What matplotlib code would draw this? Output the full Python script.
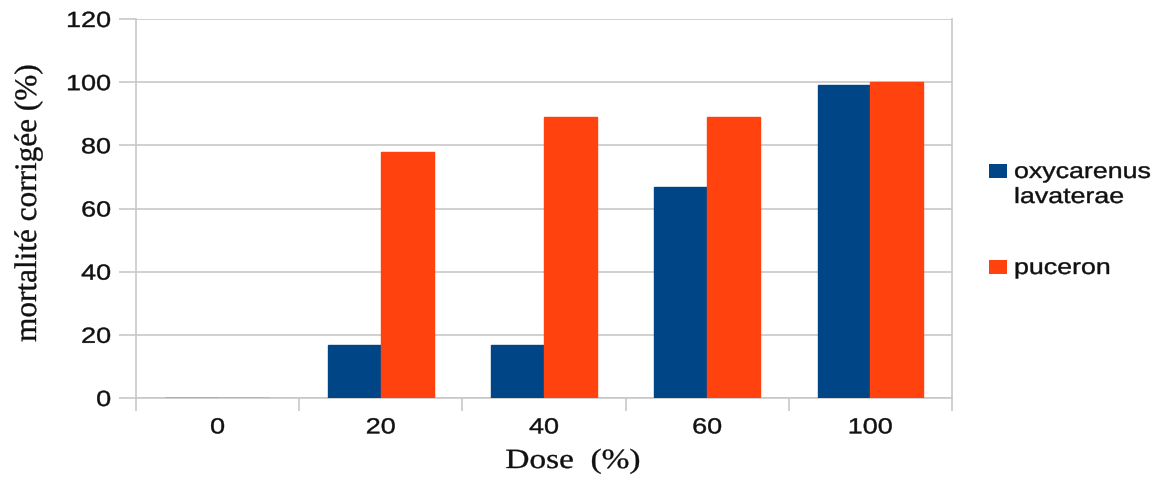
import numpy as np
import matplotlib.pyplot as plt
from matplotlib.patheffects import AbstractPathEffect
from matplotlib.transforms import Affine2D
from matplotlib.patches import Rectangle

doses = ['0', '20', '40', '60', '100']
oxycarenus = [0, 16.67, 16.67, 66.67, 99.2]
puceron = [0, 77.78, 88.89, 88.89, 100]
series = ['oxycarenus\nlavaterae', 'puceron']

blue = '#004586'
orange = '#ff420e'
grid_col = '#c8c8c8'
W, H = 1165, 479


class Stretch(AbstractPathEffect):
    # the reference text is drawn wider than the font: stretch glyphs along the text direction
    def __init__(self, sx, ha='center', lw=0.0):
        super().__init__()
        self.sx = sx
        self.ha = ha
        self.lw = lw

    def draw_path(self, renderer, gc, tpath, affine, rgbFace=None):
        ext = tpath.get_extents()
        ref = {'left': 0.0, 'center': (ext.x0 + ext.x1) / 2, 'right': ext.x1}[self.ha]
        aff = Affine2D().translate(-ref, 0).scale(self.sx, 1).translate(ref, 0) + affine
        gc0 = renderer.new_gc()
        gc0.copy_properties(gc)
        if self.lw > 0:
            gc0.set_linewidth(self.lw)
            gc0.set_foreground(rgbFace)
        renderer.draw_path(gc0, tpath, aff, rgbFace)
        gc0.restore()


fig = plt.figure(figsize=(W / 100, H / 100), dpi=100)
ax = fig.add_axes([136 / W, 1 - 398 / H, 816 / W, 379 / H])

x = np.arange(len(doses))
w = 0.323
ax.bar(x - w / 2, oxycarenus, w, color=blue, edgecolor=blue, linewidth=1.0, zorder=3)
ax.bar(x + w / 2, puceron, w, color=orange, edgecolor=orange, linewidth=1.0, zorder=3)

ax.set_xlim(-0.5, len(doses) - 0.5)
ax.set_ylim(0, 120)
ax.set_yticks(np.arange(0, 121, 20))
ax.yaxis.grid(True, color=grid_col, linewidth=1.2, zorder=0)

# category labels centred, tick marks on the category boundaries
ax.set_xticks(x)
ax.set_xticklabels(doses)
ax.set_xticks(np.arange(-0.5, len(doses)), minor=True)
ax.tick_params(axis='x', which='major', length=0, pad=14)
ax.tick_params(axis='x', which='minor', length=9, width=1.2, color=grid_col)
ax.tick_params(axis='y', length=12, width=1.2, color=grid_col, pad=6)

for lab in ax.get_xticklabels():
    lab.set_fontfamily('Liberation Sans')
    lab.set_fontsize(15.8)
    lab.set_color('#111111')
    lab.set_path_effects([Stretch(1.23, 'center', 0.3)])
for lab in ax.get_yticklabels():
    lab.set_fontfamily('Liberation Sans')
    lab.set_fontsize(15.8)
    lab.set_color('#111111')
    lab.set_path_effects([Stretch(1.23, 'right', 0.3)])

for side in ['left', 'right', 'bottom']:
    ax.spines[side].set_color(grid_col)
    ax.spines[side].set_linewidth(1.2)
ax.spines['top'].set_visible(False)
ax.spines['left'].set_bounds(0, 120)
ax.spines['right'].set_bounds(0, 120)

xl = ax.set_xlabel('Dose  (%)', fontfamily='Liberation Serif', fontsize=20, color='#111111')
ax.xaxis.set_label_coords(0.5355, (398 - 468) / 379)
xl.set_va('baseline')
xl.set_path_effects([Stretch(1.2, 'center', 0.25)])

yl = ax.set_ylabel('mortalité corrigée (%)', fontfamily='Liberation Serif', fontsize=22.5,
                   color='#111111')
ax.yaxis.set_label_coords((43 - 136) / 816, 0.515)
yl.set_path_effects([Stretch(1.0, 'center', 0.25)])

# legend: square aligned with the first text line, like the reference
colors = [blue, orange]
baselines = [178, 274]
for name, col, base in zip(series, colors, baselines):
    fig.add_artist(Rectangle((989 / W, 1 - base / H), 18 / W, 14 / H,
                             transform=fig.transFigure, facecolor=col, edgecolor='none'))
    for i, line in enumerate(name.split('\n')):
        t = fig.text(1014 / W, 1 - (base + 25 * i) / H, line, ha='left', va='baseline',
                     fontfamily='Liberation Sans', fontsize=15.8, color='#111111')
        t.set_path_effects([Stretch(1.22, 'left', 0.3)])

fig.savefig('out.png', dpi=100)
